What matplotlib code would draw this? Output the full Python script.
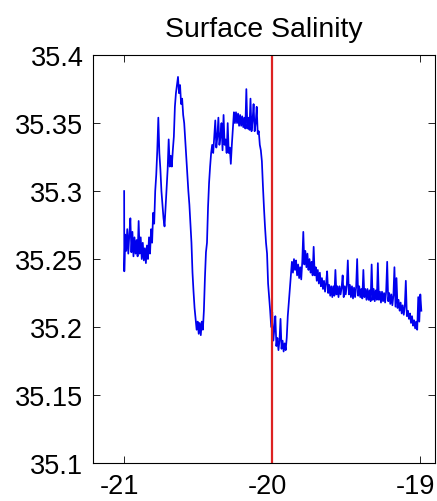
import matplotlib
matplotlib.use('Agg')
import matplotlib.pyplot as plt
import matplotlib.transforms as mtransforms
import numpy as np

plt.rcParams['font.family'] = ['Liberation Sans', 'DejaVu Sans']
plt.rcParams['axes.unicode_minus'] = False

# along-track salinity
lon_west = [-21.000, -20.999, -20.993, -20.986, -20.979, -20.972, -20.965, -20.958, -20.951, -20.944,
            -20.937, -20.930, -20.923, -20.916, -20.909, -20.902, -20.895, -20.888, -20.881, -20.874,
            -20.867, -20.860, -20.853, -20.846, -20.839, -20.832, -20.825, -20.818, -20.811]
sal_west = [35.300, 35.241, 35.268, 35.256, 35.272, 35.254, 35.268, 35.280, 35.255, 35.270,
            35.252, 35.266, 35.254, 35.264, 35.252, 35.278, 35.254, 35.266, 35.250, 35.262,
            35.249, 35.258, 35.247, 35.260, 35.250, 35.266, 35.254, 35.272, 35.262]

lon_hump1 = [-20.804, -20.797, -20.790, -20.783, -20.776, -20.769, -20.762, -20.755, -20.748, -20.741,
             -20.734, -20.727, -20.720, -20.713, -20.706, -20.699, -20.692, -20.685, -20.678, -20.671,
             -20.664, -20.657, -20.650, -20.643, -20.636, -20.629, -20.622, -20.615, -20.608, -20.601,
             -20.594, -20.587, -20.580, -20.573, -20.566, -20.559, -20.552, -20.545, -20.538]
sal_hump1 = [35.284, 35.276, 35.300, 35.312, 35.330, 35.354, 35.328, 35.316, 35.300, 35.290,
             35.280, 35.274, 35.288, 35.302, 35.316, 35.338, 35.318, 35.326, 35.318, 35.330,
             35.340, 35.362, 35.372, 35.378, 35.384, 35.372, 35.378, 35.364, 35.368, 35.356,
             35.350, 35.338, 35.325, 35.312, 35.300, 35.290, 35.276, 35.262, 35.240]

lon_dip1 = [-20.531, -20.524, -20.517, -20.510, -20.503, -20.496, -20.489, -20.482, -20.475, -20.468,
            -20.461, -20.454, -20.447, -20.440, -20.433, -20.426, -20.419, -20.412]
sal_dip1 = [35.226, 35.214, 35.206, 35.198, 35.204, 35.195, 35.203, 35.194, 35.204, 35.198,
            35.212, 35.236, 35.255, 35.262, 35.288, 35.306, 35.318, 35.328]

lon_hump2 = [-20.405, -20.398, -20.391, -20.384, -20.377, -20.370, -20.363, -20.356, -20.349, -20.342,
             -20.335, -20.328, -20.321, -20.314, -20.307, -20.300, -20.293, -20.286, -20.279, -20.272,
             -20.265, -20.258, -20.251, -20.244, -20.237, -20.230, -20.223, -20.216, -20.209, -20.202,
             -20.195, -20.188, -20.181, -20.174, -20.167, -20.160, -20.153, -20.146, -20.139, -20.132,
             -20.125, -20.118, -20.111, -20.104, -20.097, -20.090, -20.083, -20.076, -20.069, -20.062,
             -20.055, -20.048, -20.041, -20.034, -20.027, -20.020, -20.013]
sal_hump2 = [35.334, 35.328, 35.340, 35.352, 35.332, 35.340, 35.354, 35.334, 35.340, 35.350,
             35.330, 35.356, 35.334, 35.338, 35.328, 35.350, 35.328, 35.332, 35.320, 35.334,
             35.346, 35.358, 35.350, 35.358, 35.350, 35.357, 35.348, 35.356, 35.348, 35.355,
             35.347, 35.354, 35.346, 35.375, 35.346, 35.354, 35.345, 35.368, 35.344, 35.352,
             35.364, 35.344, 35.350, 35.362, 35.342, 35.344, 35.334, 35.330, 35.322, 35.304,
             35.288, 35.274, 35.262, 35.254, 35.232, 35.222, 35.212]

lon_dip2 = [-20.006, -19.999, -19.992, -19.985, -19.978, -19.971, -19.964, -19.957, -19.950, -19.943,
            -19.936, -19.929, -19.922, -19.915, -19.908, -19.901, -19.894, -19.887, -19.880]
sal_dip2 = [35.200, 35.211, 35.190, 35.198, 35.208, 35.186, 35.192, 35.183, 35.190, 35.206,
            35.184, 35.190, 35.182, 35.188, 35.183, 35.192, 35.208, 35.218, 35.228]

lon_east = [-19.873, -19.866, -19.859, -19.852, -19.845, -19.838, -19.831, -19.824, -19.817, -19.810,
            -19.803, -19.796, -19.789, -19.782, -19.775, -19.768, -19.761, -19.754, -19.747, -19.740,
            -19.733, -19.726, -19.719, -19.712, -19.705, -19.698, -19.691, -19.684, -19.677, -19.670,
            -19.663, -19.656, -19.649, -19.642, -19.635, -19.628, -19.621, -19.614, -19.607, -19.600,
            -19.593, -19.586, -19.579, -19.572, -19.565, -19.558, -19.551, -19.544, -19.537, -19.530,
            -19.523, -19.516, -19.509, -19.502, -19.495, -19.488, -19.481, -19.474, -19.467, -19.460,
            -19.453, -19.446, -19.439, -19.432, -19.425, -19.418, -19.411, -19.404, -19.397, -19.390,
            -19.383, -19.376, -19.369, -19.362, -19.355, -19.348, -19.341, -19.334, -19.327, -19.320,
            -19.313, -19.306, -19.299, -19.292, -19.285, -19.278, -19.271, -19.264, -19.257, -19.250,
            -19.243, -19.236, -19.229, -19.222, -19.215, -19.208, -19.201, -19.194, -19.187, -19.180,
            -19.173, -19.166, -19.159, -19.152, -19.145, -19.138, -19.131, -19.124, -19.117, -19.110,
            -19.103, -19.096, -19.089, -19.082, -19.075, -19.068, -19.061, -19.054, -19.047, -19.040,
            -19.033, -19.026, -19.019, -19.012, -19.005, -18.998, -18.991]
sal_east = [35.238, 35.248, 35.240, 35.250, 35.242, 35.249, 35.238, 35.246, 35.236, 35.244,
            35.235, 35.248, 35.270, 35.246, 35.256, 35.244, 35.254, 35.242, 35.250, 35.240,
            35.248, 35.238, 35.259, 35.238, 35.244, 35.234, 35.242, 35.232, 35.240, 35.230,
            35.236, 35.228, 35.234, 35.226, 35.232, 35.241, 35.225, 35.231, 35.223, 35.230,
            35.222, 35.230, 35.223, 35.242, 35.224, 35.230, 35.222, 35.230, 35.224, 35.229,
            35.238, 35.222, 35.230, 35.224, 35.231, 35.249, 35.224, 35.231, 35.222, 35.230,
            35.221, 35.229, 35.222, 35.229, 35.250, 35.223, 35.230, 35.222, 35.228, 35.221,
            35.242, 35.222, 35.228, 35.220, 35.228, 35.220, 35.227, 35.219, 35.246, 35.220,
            35.228, 35.219, 35.227, 35.220, 35.247, 35.220, 35.226, 35.218, 35.226, 35.219,
            35.225, 35.218, 35.226, 35.248, 35.219, 35.225, 35.217, 35.224, 35.216, 35.223,
            35.244, 35.215, 35.236, 35.214, 35.220, 35.212, 35.218, 35.210, 35.216, 35.209,
            35.215, 35.234, 35.208, 35.212, 35.206, 35.210, 35.203, 35.208, 35.201, 35.205,
            35.199, 35.204, 35.198, 35.222, 35.204, 35.224, 35.212]

front_lon = [-20.0]

x_ticks = [-21, -20, -19]
y_ticks = [35.1, 35.15, 35.2, 35.25, 35.3, 35.35, 35.4]
y_labels = ['35.1', '35.15', '35.2', '35.25', '35.3', '35.35', '35.4']

lon = np.concatenate([lon_west, lon_hump1, lon_dip1, lon_hump2, lon_dip2, lon_east])
sal = np.concatenate([sal_west, sal_hump1, sal_dip1, sal_hump2, sal_dip2, sal_east])

fig = plt.figure(figsize=(4.37, 5.02), dpi=100)
ax = fig.add_axes([0.213, 0.0757, 0.782, 0.8125])

ax.plot(lon, sal, color='#0000ee', linewidth=1.25)
for fl in front_lon:
    ax.axvline(fl, color='#dd2222', linewidth=1.6)

ax.set_xlim(-21.21, -18.9)
ax.set_ylim(35.1, 35.4)
ax.set_xticks(x_ticks)
ax.set_xticklabels([str(t) for t in x_ticks])
ax.set_yticks(y_ticks)
ax.set_yticklabels(y_labels)
ax.tick_params(direction='in', length=5, width=0.6, top=True, right=True,
               labelsize=19.5, pad=7)
for sp in ax.spines.values():
    sp.set_linewidth(0.8)

# MATLAB-style labels sit a little left of their ticks
shift = mtransforms.ScaledTranslation(-5 / 100, 0, fig.dpi_scale_trans)
for lbl in ax.get_xticklabels():
    lbl.set_transform(lbl.get_transform() + shift)

ax.set_title('Surface Salinity', fontsize=20.5, pad=14)

fig.savefig('out.png', dpi=100)
plt.close(fig)
